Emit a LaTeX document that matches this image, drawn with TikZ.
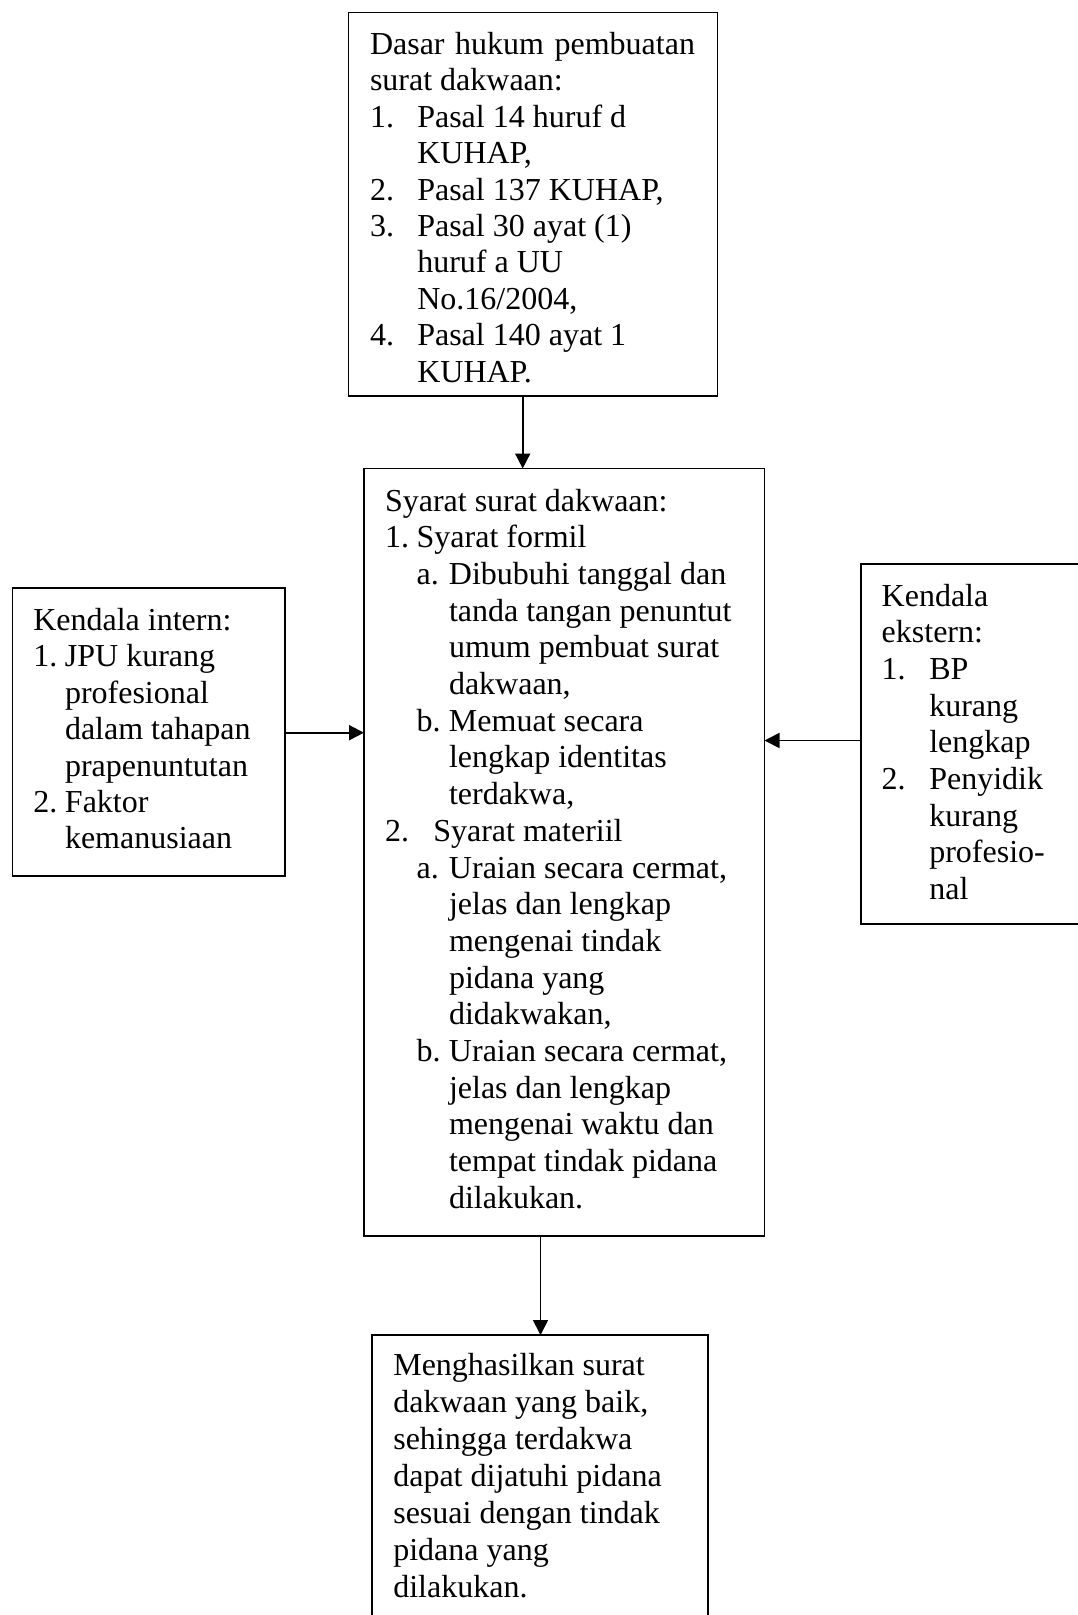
\documentclass[tikz,border=0pt]{standalone}
\usepackage{fontspec}
\setmainfont{Liberation Serif}
\usetikzlibrary{arrows.meta}
\newcommand\itm[2]{\makebox[#1][l]{#2}}
\newcommand\ind[1]{\hspace*{#1}}
\newcommand\boxtext[3]{\parbox[t]{#1}{\fontsize{32pt}{#2}\selectfont\raggedright\parindent=0pt #3}}
\begin{document}
\begin{tikzpicture}[x=1pt,y=-1pt,
  box/.style={draw=black,line width=1.8pt,inner sep=0pt,outer sep=0pt,anchor=north west},
  txt/.style={inner sep=0pt,outer sep=0pt,anchor=base west},
  arr/.style={line width=1.8pt,-{Triangle[length=15pt,width=15pt]}}]
\clip (0,0) rectangle (1078,1615);
\fill[white] (0,0) rectangle (1078,1615);
% boxes
\node[box,minimum width=369pt,minimum height=383.5pt] (top) at (348.5,12.5) {};
\node[box,minimum width=400.5pt,minimum height=767.5pt] (mid) at (364,468.5) {};
\node[box,minimum width=272.5pt,minimum height=287.5pt] (left) at (12.5,588.3) {};
\node[box,minimum width=240pt,minimum height=360pt] (right) at (860.7,564) {};
\node[box,minimum width=336pt,minimum height=300pt] (bot) at (372.3,1335) {};
% texts
\node[txt] (toptext) at (370,54.5) {\boxtext{340pt}{36.4pt}{%
\makebox[325pt][s]{Dasar hukum pembuatan}\\
surat dakwaan:\\
\itm{47.3pt}{1.}Pasal 14 huruf d\\
\ind{47.3pt}KUHAP,\\
\itm{47.3pt}{2.}Pasal 137 KUHAP,\\
\itm{47.3pt}{3.}Pasal 30 ayat (1)\\
\ind{47.3pt}huruf a UU\\
\ind{47.3pt}No.16/2004,\\
\itm{47.3pt}{4.}Pasal 140 ayat 1\\
\ind{47.3pt}KUHAP.}};
\node[txt] (midtext) at (385,511) {\boxtext{380pt}{36.7pt}{%
Syarat surat dakwaan:\\
\itm{31.7pt}{1.}Syarat formil\\
\ind{31.7pt}\itm{32.3pt}{a.}Dibubuhi tanggal dan\\
\ind{64pt}tanda tangan penuntut\\
\ind{64pt}umum pembuat surat\\
\ind{64pt}dakwaan,\\
\ind{31.7pt}\itm{32.3pt}{b.}Memuat secara\\
\ind{64pt}lengkap identitas\\
\ind{64pt}terdakwa,\\
\itm{48.3pt}{2.}Syarat materiil\\
\ind{31.7pt}\itm{32.3pt}{a.}Uraian secara cermat,\\
\ind{64pt}jelas dan lengkap\\
\ind{64pt}mengenai tindak\\
\ind{64pt}pidana yang\\
\ind{64pt}didakwakan,\\
\ind{31.7pt}\itm{32.3pt}{b.}Uraian secara cermat,\\
\ind{64pt}jelas dan lengkap\\
\ind{64pt}mengenai waktu dan\\
\ind{64pt}tempat tindak pidana\\
\ind{64pt}dilakukan.}};
\node[txt] (lefttext) at (33.3,630.5) {\boxtext{250pt}{36.4pt}{%
Kendala intern:\\
\itm{31.7pt}{1.}JPU kurang\\
\ind{31.7pt}profesional\\
\ind{31.7pt}dalam tahapan\\
\ind{31.7pt}prapenuntutan\\
\itm{31.7pt}{2.}Faktor\\
\ind{31.7pt}kemanusiaan}};
\node[txt] (righttext) at (881.7,606) {\boxtext{190pt}{36.7pt}{%
Kendala\\
ekstern:\\
\itm{47.6pt}{1.}BP\\
\ind{47.6pt}kurang\\
\ind{47.6pt}lengkap\\
\itm{47.6pt}{2.}Penyidik\\
\ind{47.6pt}kurang\\
\ind{47.6pt}profesio-\\
\ind{47.6pt}nal}};
\node[txt] (bottext) at (393.3,1375) {\boxtext{310pt}{37.1pt}{%
Menghasilkan surat\\
dakwaan yang baik,\\
sehingga terdakwa\\
dapat dijatuhi pidana\\
sesuai dengan tindak\\
pidana yang\\
dilakukan.}};
% connectors
\coordinate (c1) at (522.7,0);
\coordinate (c2) at (540.5,0);
\coordinate (c3) at (0,732.7);
\coordinate (c4) at (0,740.5);
\draw[arr] (c1 |- top.south) -- (c1 |- mid.north);
\draw[arr] (c2 |- mid.south) -- (c2 |- bot.north);
\draw[arr] (c3 -| left.east) -- (c3 -| mid.west);
\draw[arr] (c4 -| right.west) -- (c4 -| mid.east);
\end{tikzpicture}
\end{document}
